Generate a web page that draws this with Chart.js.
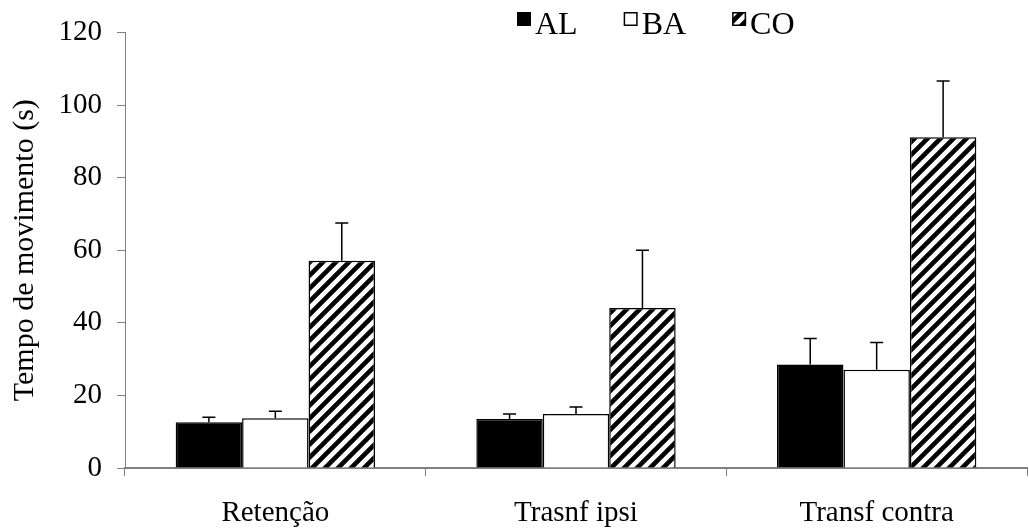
<!DOCTYPE html>
<html><head><meta charset="utf-8">
<script src="https://cdn.jsdelivr.net/npm/chart.js@4.4.0/dist/chart.umd.min.js"></script>
<style>html,body{margin:0;padding:0;background:#fff;} #wrap{width:1029px;height:530px;}</style>
</head><body><div id="wrap"><canvas id="c" width="1029" height="530"></canvas></div>
<script>
const categories = ['Retenção', 'Trasnf ipsi', 'Transf contra'];
const seriesNames = ['AL', 'BA', 'CO'];
const valuesAL = [12.6, 13.5, 28.5];
const valuesBA = [13.7, 14.9, 27.1];
const valuesCO = [57.1, 44.1, 91.1];
const errAL = [1.4, 1.4, 7.2];
const errBA = [1.9, 1.9, 7.5];
const errCO = [10.4, 15.9, 15.5];
const yTicks = [0, 20, 40, 60, 80, 100, 120];
const yTitle = 'Tempo de movimento (s)';

const FONT = "'Liberation Serif', 'Times New Roman', serif";

function hatch() {
  const s = 13, c = document.createElement('canvas');
  c.width = s; c.height = s;
  const g = c.getContext('2d');
  g.fillStyle = '#fff'; g.fillRect(0, 0, s, s);
  g.strokeStyle = '#000'; g.lineWidth = 4.6; g.lineCap = 'butt';
  g.beginPath();
  g.moveTo(-s, 2 * s); g.lineTo(2 * s, -s);
  g.moveTo(-s, s); g.lineTo(s, -s);
  g.moveTo(0, 2 * s); g.lineTo(2 * s, 0);
  g.stroke();
  return g.createPattern(c, 'repeat');
}
const hatchPattern = hatch();

const errors = [errAL, errBA, errCO];

const errorBarPlugin = {
  id: 'errorBars',
  afterDatasetsDraw(chart) {
    const ctx = chart.ctx, y = chart.scales.y;
    ctx.save();
    ctx.strokeStyle = '#000';
    ctx.lineWidth = 1.5;
    chart.data.datasets.forEach((ds, i) => {
      const meta = chart.getDatasetMeta(i);
      meta.data.forEach((el, j) => {
        const top = y.getPixelForValue(ds.data[j] + errors[i][j]);
        ctx.beginPath();
        ctx.moveTo(el.x, el.y);
        ctx.lineTo(el.x, top);
        ctx.moveTo(el.x - 6.5, top);
        ctx.lineTo(el.x + 6.5, top);
        ctx.stroke();
      });
    });
    ctx.restore();
  }
};

const legendPlugin = {
  id: 'topLegend',
  afterDraw(chart) {
    const ctx = chart.ctx;
    ctx.save();
    ctx.font = '32px ' + FONT;
    ctx.textBaseline = 'alphabetic';
    let x = chart.chartArea.left + 392;
    chart.data.datasets.forEach((ds) => {
      ctx.fillStyle = ds.backgroundColor;
      ctx.fillRect(x, 12, 14, 14);
      ctx.strokeStyle = '#000';
      ctx.lineWidth = 1.5;
      ctx.strokeRect(x + 0.75, 12.75, 12.5, 12.5);
      ctx.fillStyle = '#000';
      ctx.fillText(ds.label, x + 18, 33.5);
      x += 18 + ctx.measureText(ds.label).width + 46;
    });
    ctx.restore();
  }
};

new Chart(document.getElementById('c'), {
  type: 'bar',
  data: {
    labels: categories,
    datasets: [
      { label: seriesNames[0], data: valuesAL, backgroundColor: '#000', borderColor: '#000', borderWidth: 1.5 },
      { label: seriesNames[1], data: valuesBA, backgroundColor: '#fff', borderColor: '#000', borderWidth: 1.5 },
      { label: seriesNames[2], data: valuesCO, backgroundColor: hatchPattern, borderColor: '#000', borderWidth: 1.5 }
    ]
  },
  options: {
    responsive: false,
    animation: false,
    devicePixelRatio: 1,
    layout: { padding: { top: 30, right: 2, left: 0, bottom: 0 } },
    datasets: { bar: { categoryPercentage: 0.663, barPercentage: 1.0 } },
    plugins: { legend: { display: false }, tooltip: { enabled: false } },
    scales: {
      x: {
        grid: { display: true, drawOnChartArea: false, drawTicks: true, tickLength: 8, color: '#808080', lineWidth: 1, offset: true },
        border: { display: true, color: '#808080', width: 2 },
        ticks: { color: '#000', font: { family: FONT, size: 29 }, padding: 20 },
        afterFit(scale) { scale.height = 62; }
      },
      y: {
        min: 0, max: 120,
        afterBuildTicks(scale) { scale.ticks = yTicks.map(v => ({ value: v })); },
        grid: { display: true, drawOnChartArea: false, drawTicks: true, tickLength: 8, color: '#808080', lineWidth: 1 },
        border: { display: true, color: '#808080', width: 1 },
        ticks: { color: '#000', font: { family: FONT, size: 29 }, padding: 15 },
        title: { display: true, text: yTitle, color: '#000', font: { family: FONT, size: 30 }, padding: { top: 7, bottom: 0 } },
        afterFit(scale) { scale.width = 125; }
      }
    }
  },
  plugins: [errorBarPlugin, legendPlugin]
});
</script>
</body></html>
